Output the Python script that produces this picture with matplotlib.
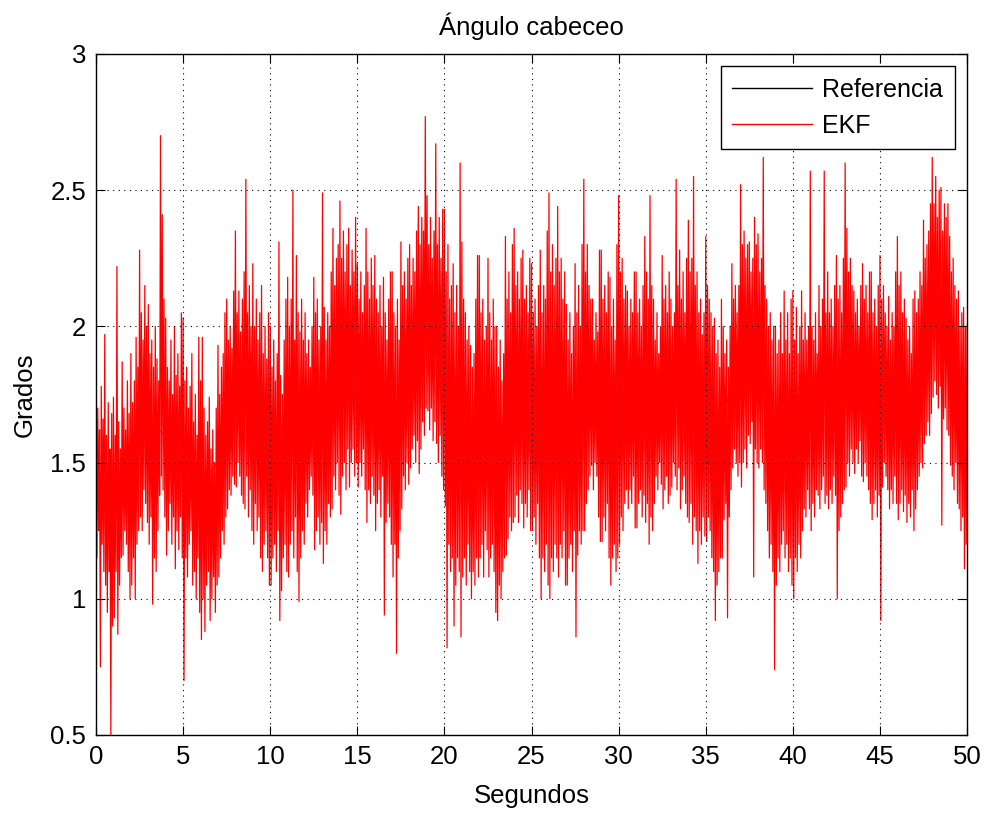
import matplotlib.pyplot as plt
import numpy as np

# EKF pitch estimate: local peaks and valleys,
# one of each every 0.1 s (rows = 1 s), valleys sit 0.05 s after peaks
picos = [
    1.93, 1.70, 1.62, 1.78, 1.66, 1.97, 1.60, 1.72, 1.55, 1.68,
    1.74, 1.60, 2.22, 1.65, 1.55, 1.87, 1.70, 1.62, 1.80, 1.68,
    1.90, 1.72, 1.80, 1.96, 1.85, 2.28, 2.05, 1.95, 2.15, 2.00,
    2.08, 1.90, 1.95, 1.85, 2.00, 1.88, 1.80, 2.70, 2.41, 2.10,
    2.03, 1.85, 1.80, 1.95, 1.75, 2.00, 1.82, 1.90, 1.78, 2.05,
    2.03, 1.80, 1.85, 1.70, 1.78, 1.90, 1.65, 1.75, 1.60, 1.96,
    1.80, 1.96, 1.70, 1.60, 1.65, 1.74, 1.55, 1.62, 1.50, 1.70,
    1.93, 1.75, 1.85, 1.90, 2.05, 2.10, 1.95, 2.00, 1.92, 2.13,
    2.35, 2.05, 2.13, 1.98, 2.10, 2.20, 2.54, 2.05, 2.15, 2.00,
    2.23, 2.00, 2.10, 1.95, 2.05, 2.15, 1.90, 2.00, 1.88, 2.05,
    2.00, 1.85, 1.95, 1.80, 1.90, 2.31, 1.82, 1.75, 1.95, 2.10,
    2.18, 2.00, 2.10, 2.50, 1.95, 2.26, 2.05, 1.98, 2.10, 1.95,
    2.05, 1.90, 1.95, 1.85, 2.00, 2.18, 2.05, 2.10, 1.95, 2.00,
    2.49, 2.07, 1.95, 2.05, 2.00, 2.20, 2.36, 2.15, 2.25, 2.30,
    2.46, 2.25, 2.35, 2.20, 2.30, 2.36, 2.15, 2.28, 2.20, 2.40,
    2.23, 2.10, 2.20, 2.05, 2.15, 2.36, 2.20, 2.10, 2.25, 2.15,
    2.26, 2.10, 2.05, 2.15, 2.00, 2.18, 2.05, 1.95, 2.10, 2.20,
    2.20, 2.05, 2.00, 2.10, 1.95, 2.31, 2.15, 2.20, 2.10, 2.25,
    2.30, 2.15, 2.25, 2.20, 2.35, 2.44, 2.30, 2.40, 2.35, 2.77,
    2.48, 2.30, 2.40, 2.25, 2.35, 2.67, 2.30, 2.40, 2.25, 2.43,
    2.43, 2.20, 2.30, 2.10, 2.15, 2.23, 2.05, 2.15, 2.00, 2.60,
    2.31, 2.10, 2.05, 1.95, 2.00, 1.93, 1.85, 1.90, 2.10, 2.26,
    2.26, 2.05, 2.10, 1.95, 2.00, 2.25, 2.05, 1.95, 2.10, 2.00,
    2.00, 1.85, 1.95, 1.80, 1.90, 2.33, 2.10, 2.20, 2.05, 2.30,
    2.36, 2.15, 2.20, 2.10, 2.25, 2.28, 2.10, 2.15, 2.05, 2.25,
    2.23, 2.05, 2.10, 2.00, 2.15, 2.28, 2.05, 2.15, 2.10, 2.35,
    2.49, 2.20, 2.30, 2.15, 2.25, 2.44, 2.20, 2.25, 2.10, 2.20,
    2.08, 1.95, 2.05, 1.90, 2.00, 2.23, 2.05, 2.15, 2.00, 2.30,
    2.54, 2.20, 2.30, 2.15, 2.10, 2.10, 1.95, 2.05, 1.98, 2.28,
    2.28, 2.10, 2.15, 2.05, 2.20, 2.18, 2.00, 2.10, 1.95, 2.30,
    2.48, 2.20, 2.25, 2.10, 2.15, 2.13, 2.00, 2.10, 2.05, 2.20,
    2.20, 2.05, 2.10, 2.00, 2.15, 2.33, 2.20, 2.10, 2.48, 2.15,
    2.10, 1.95, 2.05, 1.90, 2.00, 2.26, 2.10, 2.15, 2.05, 2.20,
    2.10, 2.00, 2.05, 2.54, 2.15, 2.28, 2.10, 2.20, 2.05, 2.25,
    2.39, 2.20, 2.25, 2.55, 2.15, 2.20, 2.05, 2.10, 1.97, 2.05,
    2.33, 2.15, 2.10, 2.05, 2.00, 2.03, 1.90, 1.95, 1.85, 2.10,
    2.00, 1.90, 1.95, 1.85, 2.00, 2.23, 2.10, 2.15, 2.05, 2.15,
    2.52, 2.30, 2.35, 2.25, 2.30, 2.31, 2.20, 2.25, 2.40, 2.30,
    2.34, 2.20, 2.25, 2.62, 2.15, 2.10, 2.00, 2.05, 1.95, 2.00,
    2.00, 1.90, 1.95, 2.05, 1.90, 2.13, 1.95, 2.05, 1.90, 2.10,
    2.13, 1.95, 2.07, 1.90, 2.00, 2.13, 1.95, 2.05, 1.95, 2.00,
    2.57, 2.00, 1.95, 2.05, 1.90, 2.15, 2.00, 2.10, 2.57, 2.05,
    2.20, 2.05, 2.10, 2.00, 2.15, 2.26, 2.10, 2.15, 2.05, 2.25,
    2.60, 2.36, 2.20, 2.25, 2.15, 2.13, 2.05, 2.10, 2.00, 2.15,
    2.23, 2.10, 2.15, 2.05, 2.20, 2.20, 2.05, 2.10, 2.00, 2.15,
    2.26, 2.10, 2.15, 2.05, 2.00, 2.11, 1.95, 2.05, 2.00, 2.20,
    2.33, 2.15, 2.20, 2.05, 2.10, 2.03, 1.95, 2.00, 1.90, 2.10,
    2.13, 2.05, 2.10, 2.20, 2.15, 2.39, 2.25, 2.30, 2.35, 2.45,
    2.62, 2.45, 2.55, 2.40, 2.50, 2.51, 2.35, 2.45, 2.40, 2.45,
    2.33, 2.20, 2.25, 2.15, 2.10, 2.13, 2.00, 2.05, 2.07, 2.00,
]
valles = [
    1.15, 1.25, 0.75, 1.20, 1.10, 1.05, 0.95, 1.10, 0.50, 0.90,
    0.93, 1.10, 0.87, 1.05, 1.15, 1.16, 1.25, 1.20, 1.10, 1.00,
    1.05, 1.15, 1.00, 1.20, 1.25, 1.30, 1.25, 1.40, 1.35, 1.28,
    1.20, 1.30, 0.98, 1.15, 1.10, 1.25, 1.38, 1.45, 1.40, 1.30,
    1.16, 1.25, 1.35, 1.20, 1.30, 1.11, 1.25, 1.18, 1.30, 1.15,
    0.70, 1.15, 1.08, 1.20, 1.25, 1.05, 1.10, 1.00, 1.15, 0.95,
    0.85, 1.00, 0.88, 1.05, 1.10, 0.92, 1.00, 1.08, 0.95, 1.05,
    1.08, 1.15, 1.25, 1.20, 1.30, 1.33, 1.40, 1.38, 1.45, 1.42,
    1.41, 1.50, 1.45, 1.38, 1.35, 1.33, 1.45, 1.30, 1.40, 1.25,
    1.20, 1.35, 1.25, 1.30, 1.15, 1.10, 1.20, 1.25, 1.15, 1.05,
    1.05, 1.15, 1.20, 1.10, 1.25, 0.92, 1.03, 1.15, 1.20, 1.10,
    1.08, 1.20, 1.25, 1.15, 1.30, 1.10, 0.99, 1.15, 1.25, 1.20,
    1.35, 1.30, 1.40, 1.45, 1.38, 1.18, 1.25, 1.30, 1.20, 1.28,
    1.13, 1.25, 1.20, 1.35, 1.30, 1.33, 1.45, 1.40, 1.50, 1.38,
    1.31, 1.45, 1.50, 1.40, 1.55, 1.41, 1.50, 1.55, 1.45, 1.50,
    1.41, 1.50, 1.45, 1.55, 1.40, 1.28, 1.40, 1.35, 1.45, 1.38,
    1.25, 1.35, 1.40, 1.30, 1.45, 0.94, 1.28, 1.35, 1.30, 1.20,
    1.08, 1.20, 0.80, 1.15, 1.25, 1.33, 1.45, 1.40, 1.50, 1.42,
    1.48, 1.55, 1.60, 1.50, 1.58, 1.46, 1.55, 1.65, 1.60, 1.70,
    1.69, 1.62, 1.70, 1.58, 1.65, 1.57, 1.50, 1.60, 1.45, 1.40,
    1.34, 0.82, 1.20, 1.10, 1.15, 0.90, 1.05, 1.15, 1.10, 0.86,
    1.08, 1.15, 1.05, 1.20, 1.10, 1.00, 1.10, 1.05, 1.15, 1.08,
    1.15, 1.20, 1.08, 1.25, 1.18, 1.08, 1.15, 1.20, 1.10, 0.95,
    0.92, 1.05, 1.00, 1.10, 1.15, 1.16, 1.22, 1.30, 1.25, 1.28,
    1.30, 1.38, 1.28, 1.40, 1.35, 1.26, 1.35, 1.30, 1.40, 1.25,
    1.25, 1.30, 1.20, 1.35, 1.15, 1.00, 1.15, 1.10, 1.20, 1.05,
    1.00, 1.15, 1.10, 1.20, 1.15, 1.08, 1.20, 1.15, 1.25, 1.05,
    1.05, 1.15, 1.20, 1.10, 1.25, 0.86, 1.16, 1.25, 1.20, 1.25,
    1.25, 1.35, 1.40, 1.45, 1.49, 1.40, 1.50, 1.45, 1.30, 1.21,
    1.21, 1.30, 1.25, 1.35, 1.15, 1.05, 1.15, 1.20, 1.10, 1.15,
    1.20, 1.30, 1.25, 1.35, 1.40, 1.33, 1.40, 1.35, 1.45, 1.26,
    1.26, 1.35, 1.40, 1.30, 1.38, 1.28, 1.35, 1.20, 1.30, 1.25,
    1.35, 1.45, 1.40, 1.50, 1.42, 1.33, 1.40, 1.45, 1.35, 1.38,
    1.41, 1.50, 1.45, 1.40, 1.48, 1.33, 1.40, 1.45, 1.35, 1.30,
    1.28, 1.35, 1.20, 1.30, 1.25, 1.13, 1.25, 1.20, 1.30, 1.23,
    1.21, 1.30, 1.25, 1.15, 1.10, 0.92, 1.05, 1.10, 1.15, 1.15,
    1.29, 1.35, 0.93, 1.30, 1.40, 1.48, 1.55, 1.50, 1.45, 1.50,
    1.41, 1.50, 1.55, 1.48, 1.60, 1.57, 1.65, 1.08, 1.55, 1.50,
    1.48, 1.55, 1.50, 1.40, 1.35, 1.25, 1.15, 1.20, 1.10, 0.74,
    1.05, 1.15, 1.10, 1.20, 1.25, 1.15, 1.20, 1.10, 1.15, 1.05,
    1.00, 1.15, 1.10, 1.20, 1.15, 1.25, 1.33, 1.30, 1.40, 1.33,
    1.25, 1.35, 1.30, 1.40, 1.38, 1.33, 1.40, 1.45, 1.35, 1.38,
    1.33, 1.40, 1.35, 1.45, 1.38, 1.00, 1.25, 1.30, 1.35, 1.40,
    1.41, 1.50, 1.45, 1.55, 1.50, 1.46, 1.55, 1.50, 1.58, 1.45,
    1.43, 1.50, 1.45, 1.40, 1.35, 1.29, 1.35, 1.40, 1.30, 1.38,
    0.92, 1.41, 1.50, 1.45, 1.40, 1.33, 1.40, 1.35, 1.45, 1.35,
    1.29, 1.35, 1.40, 1.32, 1.38, 1.28, 1.35, 1.30, 1.40, 1.25,
    1.33, 1.40, 1.45, 1.50, 1.48, 1.57, 1.60, 1.65, 1.60, 1.68,
    1.74, 1.80, 1.75, 1.70, 1.78, 1.27, 1.66, 1.70, 1.62, 1.60,
    1.49, 1.45, 1.40, 1.50, 1.35, 1.33, 1.25, 1.30, 1.11, 1.20,
]
ultimo = 2.00  # value at t = 50 s

# interleave peaks and valleys into one trace sampled every 0.05 s
ekf = np.empty(2 * len(picos) + 1)
ekf[0:-1:2] = picos
ekf[1::2] = valles
ekf[-1] = ultimo
t_ekf = np.arange(len(ekf)) * 0.05

# reference angle, once per second (it runs through the middle of the EKF band)
referencia = [
    1.50, 1.35, 1.45, 1.65, 1.60, 1.55, 1.42, 1.50, 1.77, 1.70,
    1.55, 1.63, 1.68, 1.60, 1.88, 1.82, 1.75, 1.64, 1.89, 2.05,
    1.88, 1.70, 1.67, 1.46, 1.82, 1.74, 1.75, 1.57, 1.90, 1.75,
    1.84, 1.73, 1.73, 1.76, 1.84, 1.77, 1.65, 1.97, 1.91, 1.55,
    1.55, 1.63, 1.77, 1.89, 1.83, 1.84, 1.81, 1.73, 2.18, 1.91,
    1.60,
]
t_ref = np.arange(len(referencia))

plt.rcParams.update({
    "font.family": ["Liberation Sans", "DejaVu Sans"],
    "font.size": 18,
})

fig = plt.figure(figsize=(9.85, 8.14), dpi=100)
ax = fig.add_axes([0.0975, 0.0971, 0.8843, 0.8366])

ax.plot(t_ref, referencia, color="black", linewidth=0.6, label="Referencia", zorder=1)
ax.plot(t_ekf, ekf, color="#ff0000", linewidth=0.9, label="EKF", zorder=2)

ax.set_xlim(0, 50)
ax.set_ylim(0.5, 3)
ax.set_xticks(np.arange(0, 51, 5))
ax.set_yticks([0.5, 1, 1.5, 2, 2.5, 3])
ax.set_yticklabels(["0.5", "1", "1.5", "2", "2.5", "3"])
ax.tick_params(direction="in", top=True, right=True, length=6.5, width=0.8,
               labelsize=18.5, pad=7)
ax.grid(True, color="black", linestyle=(0, (1, 4)), linewidth=0.8)
ax.set_axisbelow(False)
for s in ax.spines.values():
    s.set_linewidth(1)
    s.set_zorder(5)

ax.set_title("Ángulo cabeceo", fontsize=18.5, pad=14)
ax.set_xlabel("Segundos", fontsize=18.5, labelpad=11)
ax.set_ylabel("Grados", fontsize=18.5, labelpad=10)

leg = ax.legend(loc="upper right", fontsize=18, fancybox=False, framealpha=1,
                edgecolor="black", handlelength=3.2, handletextpad=0.4,
                borderaxespad=0.5, borderpad=0.45, labelspacing=0.5)
leg.get_frame().set_linewidth(1)
leg.set_zorder(6)
for h in leg.get_lines():
    h.set_linewidth(1)

fig.savefig("out.png", dpi=100)
